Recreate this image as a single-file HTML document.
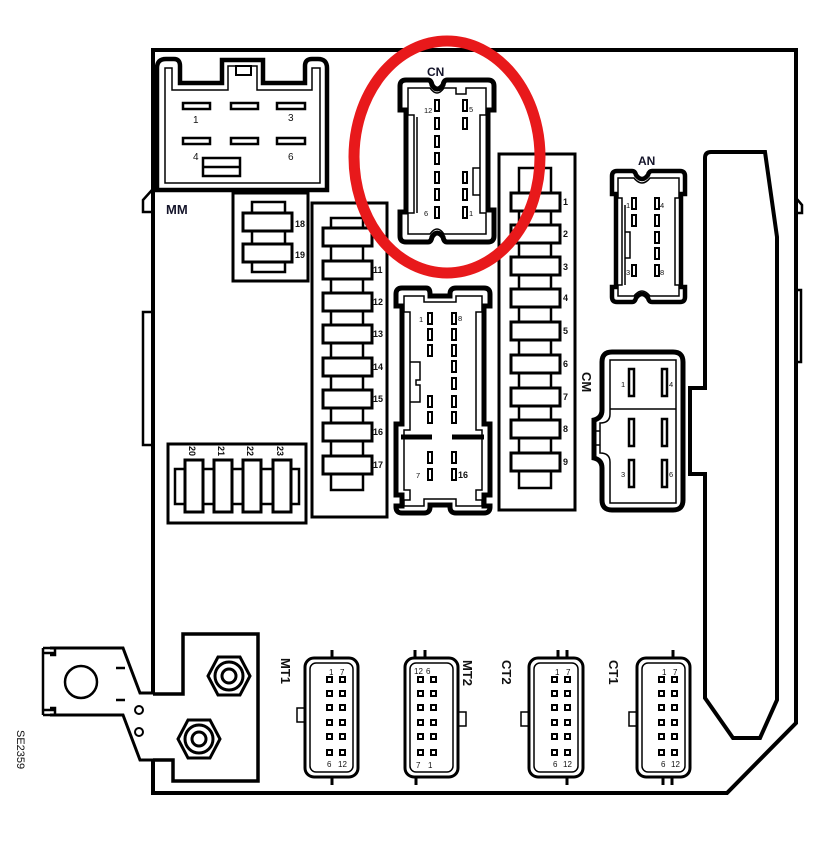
<!DOCTYPE html>
<html><head><meta charset="utf-8"><style>
html,body{margin:0;padding:0;background:#fff}
svg{display:block}
text{font-family:"Liberation Sans",Arial,sans-serif;fill:#111}
.b{font-weight:bold;fill:#14142a}
</style></head><body>
<svg width="836" height="866" viewBox="0 0 836 866" xmlns="http://www.w3.org/2000/svg">
<defs>
<rect id="pin" width="5" height="5" fill="none" stroke="#000" stroke-width="2"/>
<rect id="fh" width="49" height="18" fill="#fff" stroke="#000" stroke-width="3"/>
<rect id="sl" width="4" height="11" fill="none" stroke="#000" stroke-width="2"/>
</defs>
<g fill="none" stroke="#000">
<path d="M153 694 V50 H796 V723 L727 793 H153 V760" stroke-width="4"/>
<path d="M152 312 H143 V445 H152" stroke-width="2.5"/>
<path d="M152 190 L143 200 V212 H152" stroke-width="2.5"/>
<path d="M796 198 L802 205 V213 H796" stroke-width="2.5"/>
<path d="M796 290 H801 V362 H796" stroke-width="2.5"/>
<path d="M705 158 Q705 152 711 152 H765 L777 237 V700 L760 738 H733 L705 698 V474 H690 V388 H705 Z" stroke-width="4"/>

<path d="M157 68 Q157 59 166 59 H174 Q180 59 180 66 V83 H222 V60 H263 V83 H305 V66 Q305 59 312 59 H318 Q327 59 327 68 V190 H157 Z" stroke-width="4.5"/>
<path d="M165 68 H172 V90 H228 V66 H257 V90 H312 V68 H320 V183 H165 Z" stroke-width="1.5"/>
<rect x="236" y="66" width="15" height="9" stroke-width="2"/>
<g stroke-width="2.5">
<rect x="183" y="103" width="27" height="6"/><rect x="231" y="103" width="27" height="6"/><rect x="277" y="103" width="28" height="6"/>
<rect x="183" y="138" width="27" height="6"/><rect x="231" y="138" width="27" height="6"/><rect x="277" y="138" width="28" height="6"/>
<rect x="203" y="158" width="37" height="18"/><line x1="203" y1="167" x2="240" y2="167"/></g>

<rect x="233" y="193" width="75" height="88" stroke-width="3"/>
<rect x="252" y="202" width="33" height="70" stroke-width="2.5" fill="#fff"/>
<rect x="243" y="213" width="49" height="18" stroke-width="3" fill="#fff"/>
<rect x="243" y="244" width="49" height="18" stroke-width="3" fill="#fff"/>

<rect x="312" y="203" width="75" height="314" stroke-width="3"/>
<rect x="331" y="218" width="32" height="272" stroke-width="2.5" fill="#fff"/>
</g>
<use href="#fh" x="323" y="228"/><use href="#fh" x="323" y="261"/><use href="#fh" x="323" y="293"/><use href="#fh" x="323" y="325"/><use href="#fh" x="323" y="358"/><use href="#fh" x="323" y="390"/><use href="#fh" x="323" y="423"/><use href="#fh" x="323" y="456"/>

<g fill="none" stroke="#000">
<rect x="499" y="154" width="76" height="356" stroke-width="3"/>
<rect x="519" y="168" width="32" height="320" stroke-width="2.5" fill="#fff"/>
</g>
<use href="#fh" x="511" y="193"/><use href="#fh" x="511" y="225"/><use href="#fh" x="511" y="257"/><use href="#fh" x="511" y="289"/><use href="#fh" x="511" y="322"/><use href="#fh" x="511" y="355"/><use href="#fh" x="511" y="388"/><use href="#fh" x="511" y="420"/><use href="#fh" x="511" y="453"/>

<g fill="none" stroke="#000">
<rect x="168" y="444" width="138" height="79" stroke-width="3"/>
<rect x="175" y="469" width="124" height="35" stroke-width="2.5" fill="#fff"/>
<g stroke-width="3" fill="#fff"><rect x="185" y="460" width="18" height="52"/><rect x="214" y="460" width="18" height="52"/><rect x="243" y="460" width="18" height="52"/><rect x="273" y="460" width="18" height="52"/></g>

<path d="M400 86 Q400 80 406 80 H428 Q431 80 432 85 Q437 93 443 85 Q444 80 447 80 H488 Q494 80 494 86 V110 H488 V210 H494 V236 Q494 242 488 242 H447 Q444 242 443 237 Q437 229 432 237 Q431 242 428 242 H406 Q400 242 400 236 V212 H406 V110 H400 Z" stroke-width="5"/>
<path d="M408 88 H430 Q437 98 444 88 H456 V94 H466 V88 H486 V115 H480 V213 H486 V234 H444 Q437 224 430 234 H408 V213 H414 V115 H408 Z" stroke-width="1.5"/>
<line x1="417" y1="117" x2="417" y2="213" stroke-width="1.5"/>
<path d="M480 168 H473 V195 H480" stroke-width="1.5"/>
</g>
<use href="#sl" x="435" y="100"/><use href="#sl" x="435" y="118"/><use href="#sl" x="435" y="136"/><use href="#sl" x="435" y="153"/><use href="#sl" x="435" y="172"/><use href="#sl" x="435" y="189"/><use href="#sl" x="435" y="207"/>
<use href="#sl" x="463" y="100"/><use href="#sl" x="463" y="118"/><use href="#sl" x="463" y="172"/><use href="#sl" x="463" y="189"/><use href="#sl" x="463" y="207"/>

<g fill="none" stroke="#000">
<path d="M612 176 Q612 171 617 171 H632 Q635 171 636 175 Q642 183 648 175 Q649 171 652 171 H680 Q685 171 685 176 V194 H681 V287 H685 V297 Q685 302 680 302 H652 Q649 302 648 298 Q642 290 636 298 Q635 302 632 302 H617 Q612 302 612 297 V287 H616 V194 H612 Z" stroke-width="4.5"/>
<path d="M618 178 H634 Q642 188 650 178 H679 V198 H675 V285 H679 V296 H650 Q642 286 634 296 H618 V285 H622 V198 H618 Z" stroke-width="1.5"/>
<path d="M625 205 V285 M625 232 H630 V258 H625" stroke-width="1.5"/>
</g>
<use href="#sl" x="632" y="198"/><use href="#sl" x="632" y="215"/><use href="#sl" x="632" y="265"/>
<use href="#sl" x="655" y="198"/><use href="#sl" x="655" y="215"/><use href="#sl" x="655" y="232"/><use href="#sl" x="655" y="248"/><use href="#sl" x="655" y="265"/>

<g fill="none" stroke="#000">
<path d="M396 294 Q396 288 402 288 H426 Q430 288 430 294 V296 H450 V294 Q450 288 456 288 H484 Q490 288 490 294 V306 H484 V424 H490 V495 H484 V506 H490 V507 Q490 513 484 513 H456 Q450 513 450 507 V505 H430 V507 Q430 513 424 513 H402 Q396 513 396 507 V506 H402 V495 H396 V424 H402 V306 H396 Z" stroke-width="5"/>
<path d="M404 296 H424 V302 H456 V296 H482 V312 H476 V430 H482 V490 H476 V500 H482 V506 H456 V499 H424 V506 H404 V500 H410 V490 H404 V430 H410 V312 H404 Z" stroke-width="1.5"/>
<path d="M410 362 H420 V380 H416 V385 H420 V402 H410" stroke-width="1.5"/>
<path d="M401 437 H432 M452 437 H484" stroke-width="5"/>
</g>
<use href="#sl" x="428" y="313"/><use href="#sl" x="428" y="329"/><use href="#sl" x="428" y="345"/><use href="#sl" x="428" y="396"/><use href="#sl" x="428" y="412"/><use href="#sl" x="428" y="452"/><use href="#sl" x="428" y="469"/>
<use href="#sl" x="452" y="313"/><use href="#sl" x="452" y="329"/><use href="#sl" x="452" y="345"/><use href="#sl" x="452" y="361"/><use href="#sl" x="452" y="378"/><use href="#sl" x="452" y="396"/><use href="#sl" x="452" y="412"/><use href="#sl" x="452" y="452"/><use href="#sl" x="452" y="469"/>

<g fill="none" stroke="#000">
<path d="M612 352 H673 Q683 352 683 362 V500 Q683 510 673 510 H612 Q602 510 602 500 V468 Q602 460 594 458 V420 Q602 418 602 410 V362 Q602 352 612 352 Z" stroke-width="5"/>
<path d="M610 360 H676 V503 H610 V462 Q610 453 600 453 V423 Q610 423 610 414 Z" stroke-width="1.5"/>
<line x1="610" y1="409" x2="676" y2="409" stroke-width="1.5"/>
<path d="M600 431 H594 V445 H600" stroke-width="1.5"/>
<g stroke-width="2.5"><rect x="629" y="369" width="5" height="27"/><rect x="662" y="369" width="5" height="27"/><rect x="629" y="419" width="5" height="27"/><rect x="662" y="419" width="5" height="27"/><rect x="629" y="460" width="5" height="27"/><rect x="662" y="460" width="5" height="27"/></g>

<path d="M153 694 H183 V634 H258 V781 H173 V760 H153" stroke-width="3.5"/>
<path d="M50 648 H123 L140 693 H153 M153 760 H140 L123 715 H50" stroke-width="3"/>
<path d="M43 648 V715 M43 648 H55 V655 H50 M43 715 H55 V708 H50 M43 653 H55 M43 710 H55" stroke-width="2.5"/>
<circle cx="81" cy="682" r="16" stroke-width="2.5"/>
<path d="M116 668 H125 M116 700 H125" stroke-width="2.5"/>
<circle cx="139" cy="710" r="4" stroke-width="2"/><circle cx="139" cy="732" r="4" stroke-width="2"/>
<g stroke-width="3">
<polygon points="208,676 218,657 240,657 250,676 240,695 218,695"/><circle cx="229" cy="676" r="14"/><circle cx="229" cy="676" r="7"/>
<polygon points="178,739 188,720 210,720 220,739 210,758 188,758"/><circle cx="199" cy="739" r="14"/><circle cx="199" cy="739" r="7"/>
</g>

<g stroke-width="3">
<rect x="305" y="658" width="53" height="119" rx="9"/><rect x="310" y="663" width="43" height="109" rx="6" stroke-width="1.5"/>
<path d="M332 650 V658 M332 777 V785"/><rect x="297" y="708" width="8" height="14" stroke-width="1.5"/>
<rect x="405" y="658" width="53" height="119" rx="9"/><rect x="410" y="663" width="43" height="109" rx="6" stroke-width="1.5"/>
<path d="M415 650 V658 M425 650 V658 M416 777 V785"/><rect x="458" y="712" width="8" height="14" stroke-width="1.5"/>
<rect x="529" y="658" width="54" height="119" rx="9"/><rect x="534" y="663" width="44" height="109" rx="6" stroke-width="1.5"/>
<path d="M558 650 V658 M567 650 V658 M567 777 V785"/><rect x="521" y="712" width="8" height="14" stroke-width="1.5"/>
<rect x="637" y="658" width="53" height="119" rx="9"/><rect x="642" y="663" width="43" height="109" rx="6" stroke-width="1.5"/>
<path d="M673 650 V658 M663 777 V785 M672 777 V785"/><rect x="629" y="712" width="8" height="14" stroke-width="1.5"/>
</g>

<ellipse cx="447" cy="157" rx="93" ry="116" stroke="#e8191b" stroke-width="11"/>
</g>

<g id="pins12">
<use href="#pin" x="327" y="677"/><use href="#pin" x="340" y="677"/><use href="#pin" x="327" y="691"/><use href="#pin" x="340" y="691"/><use href="#pin" x="327" y="705"/><use href="#pin" x="340" y="705"/><use href="#pin" x="327" y="720"/><use href="#pin" x="340" y="720"/><use href="#pin" x="327" y="734"/><use href="#pin" x="340" y="734"/><use href="#pin" x="327" y="750"/><use href="#pin" x="340" y="750"/>
</g>
<use href="#pins12" x="91"/><use href="#pins12" x="225"/><use href="#pins12" x="332"/>

<g font-size="10">
<text x="193" y="123">1</text><text x="288" y="121">3</text><text x="193" y="160">4</text><text x="288" y="160">6</text>
</g>
<text class="b" x="166" y="214" font-size="13">MM</text>
<text class="b" x="427" y="76" font-size="12">CN</text>
<text class="b" x="638" y="165" font-size="12">AN</text>
<g class="b" font-size="9">
<text x="295" y="227">18</text><text x="295" y="258">19</text>
<text x="373" y="273">11</text><text x="373" y="305">12</text><text x="373" y="337">13</text><text x="373" y="370">14</text><text x="373" y="402">15</text><text x="373" y="435">16</text><text x="373" y="468">17</text>
<text x="563" y="205">1</text><text x="563" y="237">2</text><text x="563" y="270">3</text><text x="563" y="301">4</text><text x="563" y="334">5</text><text x="563" y="367">6</text><text x="563" y="400">7</text><text x="563" y="432">8</text><text x="563" y="465">9</text>
<text x="458" y="478">16</text>
</g>
<g class="b" font-size="9">
<text transform="translate(189,446) rotate(90)">20</text><text transform="translate(218,446) rotate(90)">21</text><text transform="translate(247,446) rotate(90)">22</text><text transform="translate(277,446) rotate(90)">23</text>
</g>
<g font-size="7.5">
<text x="424" y="113">12</text><text x="469" y="112">5</text><text x="424" y="216">6</text><text x="469" y="216">1</text>
<text x="626" y="208">1</text><text x="660" y="208">4</text><text x="626" y="275">3</text><text x="660" y="275">8</text>
<text x="419" y="322">1</text><text x="458" y="321">8</text><text x="416" y="478">7</text>
<text x="621" y="387">1</text><text x="669" y="387">4</text><text x="621" y="477">3</text><text x="669" y="477">6</text>
</g>
<g font-size="8">
<text x="329" y="675">1</text><text x="340" y="675">7</text><text x="327" y="767">6</text><text x="338" y="767">12</text>
<text x="414" y="674">12</text><text x="426" y="674">6</text><text x="416" y="768">7</text><text x="428" y="768">1</text>
<text x="555" y="675">1</text><text x="566" y="675">7</text><text x="553" y="767">6</text><text x="563" y="767">12</text>
<text x="662" y="675">1</text><text x="673" y="675">7</text><text x="661" y="767">6</text><text x="671" y="767">12</text>
</g>
<g class="b" font-size="13">
<text transform="translate(582,372) rotate(90)">CM</text>
<text transform="translate(281,658) rotate(90)">MT1</text>
<text transform="translate(463,660) rotate(90)">MT2</text>
<text transform="translate(502,660) rotate(90)">CT2</text>
<text transform="translate(609,660) rotate(90)">CT1</text>
</g>
<text transform="translate(17,730) rotate(90)" font-size="11">SE2359</text>
</svg>
</body></html>
